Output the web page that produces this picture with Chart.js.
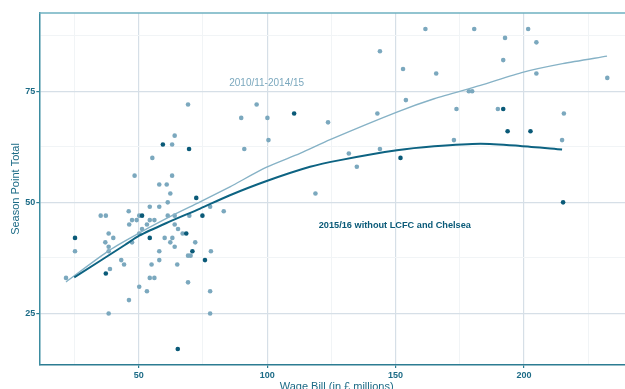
<!DOCTYPE html>
<html>
<head>
<meta charset="utf-8">
<script src="https://cdn.jsdelivr.net/npm/chart.js"></script>
<style>
  html, body { margin: 0; padding: 0; background: #fff; overflow: hidden; }
  #wrap { position: absolute; left: 0; top: 0; width: 645px; height: 398px; }
</style>
</head>
<body>
<div id="wrap"><canvas id="c"></canvas></div>
<script>
// 2010/11 - 2014/15 seasons: wage bill (GBP m) vs points
const pastWages = [21.7, 25.2, 35.2, 37.2, 37.0, 38.3, 40.1, 38.3, 38.3, 38.8, 38.3, 43.2, 44.3, 46.2, 46.1, 46.3, 47.4, 49.2, 47.4,
  50.2, 50.2, 51.3, 50.2, 53.2, 53.2, 54.3, 54.3, 56.1, 55.0, 54.3, 56.1, 58.0, 58.0, 58.0, 60.1, 61.3, 61.3, 62.3, 62.3, 63.1,
  64.0, 64.0, 64.0, 65.0, 65.3, 67.1, 69.2, 70.2, 69.2, 69.7, 72.0, 77.8, 78.1, 77.8, 77.8, 83.1, 118.8, 69.2, 95.9, 89.9,
  100.1, 64.0, 63.0, 91.1, 100.5, 55.3, 48.4, 63.0, 58.0, 60.9, 123.7, 161.6, 180.6, 143.9, 152.9, 165.8, 178.5, 179.8, 154.0,
  142.9, 173.7, 172.7, 131.8, 143.9, 134.9, 201.6, 192.6, 204.8, 191.9, 204.8, 232.4, 189.8, 215.5, 214.8];
const pastPoints = [33, 39, 47, 47, 41, 43, 42, 40, 39, 35, 25, 37, 36, 28, 48, 45, 46, 46, 41,
  47, 43, 44, 31, 30, 45, 49, 46, 46, 36, 33, 33, 39, 37, 49, 42, 50, 47, 52, 41, 42,
  45, 47, 40, 36, 44, 43, 38, 38, 32, 47, 41, 49, 39, 30, 25, 48, 52, 72, 72, 69,
  69, 65, 63, 62, 64, 60, 56, 56, 54, 54, 68, 89, 89, 84, 80, 79, 75, 75, 73,
  70, 71, 64, 61, 62, 58, 89, 87, 86, 82, 79, 78, 71, 70, 64];

// 2015/16 without LCFC and Chelsea
const newWages = [25.2, 37.2, 51.3, 54.3, 65.2, 68.5, 70.9, 72.4, 74.8, 75.8, 59.4, 69.6, 110.5, 151.9, 191.9, 193.6, 202.5, 215.2];
const newPoints = [42, 34, 47, 42, 17, 43, 39, 51, 47, 37, 63, 62, 70, 60, 71, 66, 66, 50];

// smoothed trends
const pastFitX = [21.7, 38.8, 50.2, 63.3, 73.9, 85.5, 99.8, 112.8, 124.5, 150.5, 165, 183, 199.8, 215, 232.3];
const pastFitY = [32.1, 39.3, 43.1, 47.1, 50.1, 53.5, 57.9, 61.0, 64.1, 70.3, 73.3, 76.3, 79.3, 81.2, 82.9];
const newFitX = [24.9, 44.6, 50.2, 60.6, 73.9, 85.5, 99.8, 116.7, 128.4, 150.5, 165, 183, 198.5, 214.8];
const newFitY = [33.1, 40.4, 42.5, 45.3, 48.6, 51.6, 54.8, 58.0, 59.5, 61.7, 62.6, 63.2, 62.7, 61.9];

const labelText = ['2010/11-2014/15', '2015/16 without LCFC and Chelsea'];
const labelX = [99.8, 149.7];
const labelY = [76.7, 44.7];

const LIGHT = '#7ba8be';
const DARK = '#0a5a78';
const AXIS_TXT = '#1c6b86';
const FONT = '"Liberation Sans", Arial, sans-serif';

const pairs = (xs, ys) => xs.map((x, i) => ({ x: x, y: ys[i] }));

const labelsPlugin = {
  id: 'labels',
  afterDatasetsDraw(chart) {
    const { ctx, chartArea, scales } = chart;
    ctx.save();
    // top frame line
    ctx.strokeStyle = '#6eb0c0';
    ctx.lineWidth = 1.5;
    ctx.beginPath();
    ctx.moveTo(chartArea.left, chartArea.top);
    ctx.lineTo(chartArea.right + 20, chartArea.top);
    ctx.stroke();
    ctx.textAlign = 'center';
    ctx.textBaseline = 'middle';
    labelText.forEach((t, i) => {
      ctx.fillStyle = i === 0 ? LIGHT : DARK;
      ctx.font = (i === 0 ? '10px ' : 'bold 9.2px ') + FONT;
      ctx.fillText(t, scales.x.getPixelForValue(labelX[i]), scales.y.getPixelForValue(labelY[i]));
    });
    ctx.restore();
  }
};

const isStep = (v, s) => Math.abs(v % s) < 1e-6;

function gridOpts(step) {
  return {
    color: c => isStep(c.tick.value, step) ? '#d6dfe7' : '#f1f4f6',
    lineWidth: c => isStep(c.tick.value, step) ? 1.2 : 1,
    tickColor: c => isStep(c.tick.value, step) ? '#2c7c92' : 'rgba(0,0,0,0)',
    tickLength: 3
  };
}

new Chart(document.getElementById('c'), {
  type: 'scatter',
  data: {
    datasets: [
      { data: pairs(pastWages, pastPoints), backgroundColor: LIGHT, pointRadius: 2.3, borderWidth: 0, order: 4 },
      { data: pairs(newWages, newPoints), backgroundColor: DARK, pointRadius: 2.3, borderWidth: 0, order: 3 },
      { data: pairs(pastFitX, pastFitY), showLine: true, borderColor: '#86b2c6', borderWidth: 1.4,
        pointRadius: 0, tension: 0.25, order: 2 },
      { data: pairs(newFitX, newFitY), showLine: true, borderColor: '#0d6382', borderWidth: 2,
        pointRadius: 0, tension: 0.25, order: 1 }
    ]
  },
  options: {
    responsive: true,
    maintainAspectRatio: false,
    animation: false,
    layout: { padding: { top: 13, right: 11, left: 0, bottom: 0 } },
    plugins: { legend: { display: false }, tooltip: { enabled: false } },
    scales: {
      x: {
        min: 11.3, max: 242.8,
        afterFit: s => { s.height = 398 - 365; },
        border: { color: '#2c7c92', width: 1.5 },
        grid: gridOpts(50),
        ticks: {
          stepSize: 25, includeBounds: false, padding: 2, maxRotation: 0, autoSkip: false,
          color: AXIS_TXT, font: { family: FONT, size: 9, weight: 'bold' },
          callback: v => isStep(v, 50) ? String(v) : ''
        },
        title: { display: true, text: 'Wage Bill (in £ millions)', color: AXIS_TXT,
          font: { family: FONT, size: 11 }, padding: { top: 0, bottom: 4 } }
      },
      y: {
        min: 13.4, max: 92.6,
        afterFit: s => { s.width = 39.3; },
        border: { color: '#3b8ca0', width: 1.5 },
        grid: gridOpts(25),
        ticks: {
          stepSize: 12.5, includeBounds: false, padding: 1, autoSkip: false,
          color: AXIS_TXT, font: { family: FONT, size: 9, weight: 'bold' },
          callback: v => isStep(v, 25) ? String(v) : ''
        },
        title: { display: true, text: 'Season Point Total', color: AXIS_TXT,
          font: { family: FONT, size: 11 }, padding: { top: 9, bottom: 0 } }
      }
    }
  },
  plugins: [labelsPlugin]
});
</script>
</body>
</html>
